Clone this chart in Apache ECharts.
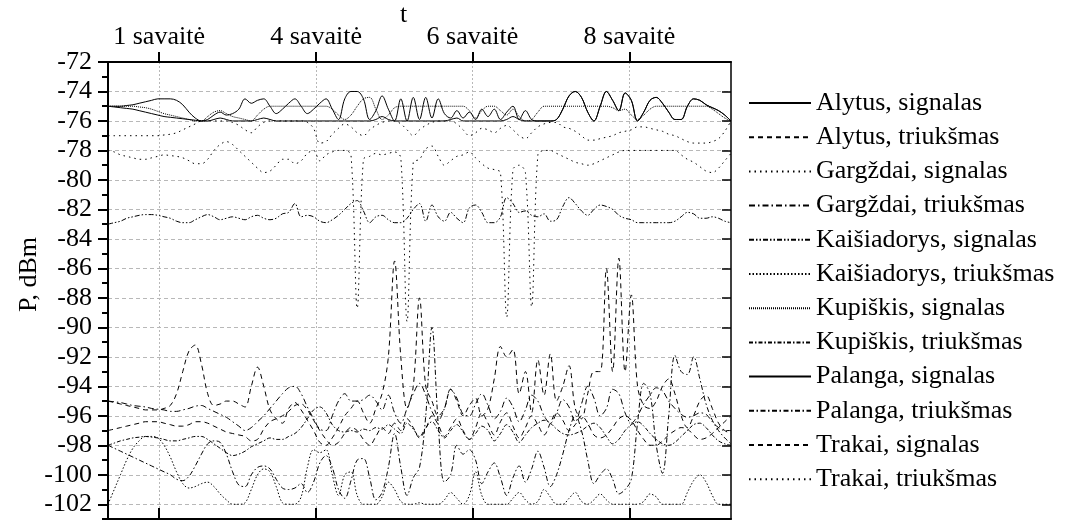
<!DOCTYPE html>
<html>
<head>
<meta charset="utf-8">
<script src="https://cdn.jsdelivr.net/npm/echarts@6/dist/echarts.min.js"></script>
<style>
html,body{margin:0;padding:0;background:#fff;}
#c{width:1081px;height:532px;}
</style>
</head>
<body>
<div id="c"></div>
<script>
// x positions (sample index along the measurement period)
const xs = [];
for (let i = 0; i <= 100; i++) xs.push(i);

// top-axis tick positions and labels
const tickPos = [8.2, 33.4, 58.5, 83.7];
const tickLabels = ['1 savaitė', '4 savaitė', '6 savaitė', '8 savaitė'];

const seriesNames = [
  'Alytus, signalas', 'Alytus, triukšmas', 'Gargždai, signalas', 'Gargždai, triukšmas',
  'Kaišiadorys, signalas', 'Kaišiadorys, triukšmas', 'Kupiškis, signalas', 'Kupiškis, triukšmas',
  'Palanga, signalas', 'Palanga, triukšmas', 'Trakai, signalas', 'Trakai, triukšmas'
];

const alytusSig = [
  -75,-75,-75,-74.95,-74.9,-74.8,-74.7,-74.6,-74.5,-74.5,
  -74.5,-74.6,-74.9,-75.4,-75.8,-76,-75.9,-75.6,-75.4,-75.6,
  -75.5,-75.2,-74.5,-74.8,-74.6,-74.5,-75.0,-75.5,-75.2,-74.8,
  -74.5,-75.0,-75.5,-75.2,-74.8,-74.5,-75.2,-75.9,-74.5,-74.0,
  -74.0,-74.5,-75.9,-75.3,-74.3,-75.2,-76,-74.5,-76,-74.4,
  -75.9,-74.4,-75.8,-74.5,-75.5,-75.8,-75.3,-75.8,-75.4,-75.9,
  -75.2,-75.7,-75.2,-75.9,-75.4,-75.0,-75.9,-75.3,-75.9,-76,
  -76,-76,-75.9,-75.2,-74.3,-74.0,-74.4,-75.4,-76,-75.0,
  -74.0,-74.6,-75.3,-74.1,-74.6,-76,-75.4,-74.6,-74.4,-74.8,
  -75.4,-75.9,-75.9,-75.0,-74.5,-74.6,-74.9,-75.1,-75.3,-75.6,
  -76
];
const palangaSig = [
  -75,-75.05,-75.1,-75.15,-75.2,-75.3,-75.4,-75.5,-75.6,-75.7,
  -75.75,-75.8,-75.85,-75.9,-75.95,-76,-76,-75.9,-75.8,-75.9,
  -76,-76,-76,-76,-75.9,-75.8,-75.9,-76,-76,-76,
  -76,-76,-76,-76,-76,-76,-76,-76,-76,-76,
  -76,-76,-76,-75.9,-75.7,-75.9,-76,-76,-76,-76,
  -76,-76,-76,-76,-76,-75.9,-75.8,-76,-76,-76,
  -76,-76,-76,-76,-75.9,-75.7,-75.9,-76,-76,-76,
  -76,-76,-75.9,-75.2,-74.3,-74.0,-74.4,-75.4,-76,-75.0,
  -74.0,-74.6,-75.3,-74.1,-74.6,-76,-75.4,-74.6,-74.4,-74.8,
  -75.4,-75.9,-75.9,-75.0,-74.5,-74.6,-74.9,-75.1,-75.3,-75.6,
  -76
];
const kupiskisSig = [
  -75,-75,-75,-75,-75,-75.05,-75.1,-75.2,-75.35,-75.5,
  -75.6,-75.7,-75.8,-75.9,-76,-76,-75.7,-75.4,-75.3,-75.5,
  -75.7,-75.8,-75.9,-76,-75.6,-75.2,-75,-75,-75,-75,
  -75,-75,-75,-75,-75,-75,-75.2,-75.6,-75.9,-75.6,
  -75.0,-74.5,-74.4,-75.2,-75.9,-75.6,-75.1,-75,-75,-75,
  -75,-75,-75,-75,-75,-75,-75,-75,-75.3,-75.8,
  -75.3,-75,-75,-75.3,-75.6,-75.2,-75.7,-76,-75.9,-75.4,
  -75,-75,-75,-75,-75,-75,-75,-75,-75,-75,
  -75,-75.1,-75.3,-75.2,-75.6,-75.9,-75.6,-75.2,-75,-75,
  -75,-75,-75,-75,-75,-75,-75,-75.2,-75.5,-75.8,
  -76
];
const gargzdaiSig = [
  -77,-77,-77,-77,-77,-77,-77,-77,-77,-76.95,
  -76.9,-76.8,-76.6,-76.4,-76.2,-76.0,-76.0,-76.0,-76.0,-76.0,
  -76.1,-76.3,-76.6,-76.8,-76.4,-76.1,-76.0,-76.0,-76,-76,
  -76,-76,-76.1,-76.5,-77.5,-77.4,-76.9,-76.5,-76.2,-76.4,
  -76.8,-77.0,-76.6,-76.3,-76.1,-76.0,-76.0,-76.2,-76.6,-77.0,
  -76.6,-76.3,-76.1,-76.0,-76.0,-76.0,-76.2,-76.6,-77.0,-76.8,
  -76.5,-76.6,-76.8,-76.5,-76.3,-76.6,-77.0,-77.2,-76.8,-76.4,
  -76.2,-76.1,-76.1,-76.4,-76.5,-76.7,-77.0,-77.3,-77.3,-77.2,
  -77.1,-77.0,-76.8,-76.7,-76.6,-76.4,-76.4,-76.5,-76.6,-76.7,
  -76.9,-77.0,-77.2,-77.4,-77.5,-77.5,-77.5,-77.4,-77.2,-76.7,
  -76
];
const trakaiTri = [
  -78.0,-78.1,-78.3,-78.4,-78.5,-78.6,-78.6,-78.5,-78.4,-78.3,
  -78.35,-78.4,-78.5,-78.7,-78.9,-78.9,-78.6,-78.0,-77.6,-77.4,
  -77.6,-78.0,-78.4,-78.8,-79.2,-79.5,-79.4,-79.0,-78.6,-78.6,
  -78.9,-78.7,-78.2,-78.0,-78.7,-78.3,-78.1,-78.0,-78.0,-78.3,
  -88.7,-78.6,-78.4,-78.2,-78.3,-78.2,-78.1,-78.5,-89.6,-78.8,
  -78.6,-77.9,-77.7,-78.4,-79.0,-78.7,-78.4,-78.3,-78.1,-78.5,
  -78.9,-79.2,-79.3,-79.5,-89.3,-79.3,-79.0,-79.5,-88.6,-78.3,
  -78.0,-78.0,-78.2,-78.4,-78.6,-78.8,-78.9,-79.0,-78.9,-78.7,
  -78.5,-78.3,-78.1,-78.0,-78.0,-78.0,-78.0,-78.0,-78.0,-78.0,
  -78.0,-78.0,-78.3,-78.6,-78.8,-79.1,-79.4,-79.5,-79.2,-78.7,
  -78.2
];
const kaisSig = [
  -83.0,-82.9,-82.8,-82.6,-82.5,-82.4,-82.35,-82.35,-82.4,-82.5,
  -82.6,-82.8,-82.9,-82.9,-82.7,-82.5,-82.35,-82.5,-82.7,-82.6,
  -82.5,-82.6,-82.7,-82.5,-82.4,-82.6,-82.7,-82.6,-82.3,-82.2,
  -81.6,-82.5,-82.4,-82.5,-82.8,-82.9,-82.7,-82.4,-82.0,-81.6,
  -81.4,-82.1,-82.9,-82.5,-82.4,-82.7,-82.9,-82.9,-82.6,-82.0,
  -81.6,-82.8,-81.7,-82.5,-82.8,-82.2,-82.6,-82.9,-81.9,-81.7,
  -82.2,-82.9,-82.9,-82.5,-81.2,-81.6,-82.2,-82.1,-82.4,-82.5,
  -82.3,-82.8,-82.7,-81.8,-81.2,-81.6,-82.1,-82.4,-82.0,-81.7,
  -81.8,-82.0,-82.4,-82.6,-82.7,-82.9,-82.9,-82.9,-82.9,-82.9,
  -82.9,-82.8,-82.5,-82.2,-82.3,-82.6,-82.6,-82.5,-82.6,-82.8,
  -82.9
];
const trakaiSig = [
  -95.0,-95.1,-95.2,-95.3,-95.4,-95.5,-95.6,-95.6,-95.6,-95.5,
  -95.3,-94.5,-93.0,-91.6,-91.2,-92.5,-94.5,-95.3,-95.2,-95.0,
  -95.0,-95.2,-95.4,-94.0,-92.7,-94.0,-95.6,-96.2,-96.5,-95.5,
  -95.1,-95.6,-96.3,-97.0,-97.8,-98.0,-97.5,-96.8,-96.0,-95.5,
  -95.0,-95.8,-96.5,-95.5,-94.5,-92.0,-85.5,-92.0,-95.5,-94.0,
  -88.0,-94.0,-95.0,-96.0,-95.5,-94.2,-95.0,-96.0,-95.3,-94.8,
  -96.0,-95.5,-93.5,-91.3,-92.0,-91.5,-94.5,-93.0,-95.8,-92.2,
  -94.6,-91.8,-95.0,-94.0,-92.6,-95.5,-96.2,-94.5,-93.0,-93.0,
  -86.0,-93.0,-85.3,-93.0,-87.8,-94.0,-95.3,-95.5,-95.0,-94.0,
  -93.5,-94.5,-96.0,-96.8,-96.0,-95.0,-94.6,-95.5,-96.5,-97.0,
  -97.2
];
const alytusTri = [
  -97.0,-96.9,-96.8,-96.7,-96.6,-96.5,-96.4,-96.4,-96.4,-96.5,
  -96.6,-96.7,-96.7,-96.6,-96.4,-96.4,-96.5,-96.7,-96.9,-97.1,
  -97.2,-97.3,-97.4,-97.7,-97.6,-96.9,-96.4,-96.2,-96.0,-95.7,
  -95.3,-95.2,-95.6,-96.3,-97.0,-97.6,-98.0,-97.8,-97.2,-96.8,
  -97.0,-97.6,-98.0,-97.4,-96.8,-97.2,-96.5,-97.0,-96.2,-96.8,
  -97.5,-96.9,-96.0,-96.6,-97.4,-96.8,-96.2,-97.0,-97.6,-96.8,
  -95.8,-96.5,-97.3,-96.4,-95.8,-96.7,-97.5,-96.8,-96.0,-96.6,
  -97.3,-96.5,-95.8,-96.3,-97.0,-96.6,-96.0,-96.5,-97.3,-97.5,
  -97.3,-96.8,-96.2,-96.0,-96.3,-97.0,-97.6,-98.0,-98.0,-97.7,
  -97.3,-97.0,-96.8,-96.9,-97.3,-97.6,-97.5,-97.2,-96.8,-96.4,
  -96.0
];
const gargzdaiTri = [
  -95.0,-95.05,-95.1,-95.2,-95.3,-95.35,-95.4,-95.5,-95.55,-95.6,
  -95.7,-95.7,-95.6,-95.5,-95.35,-95.3,-95.5,-95.7,-95.9,-96.1,
  -96.4,-96.7,-97.0,-96.8,-96.4,-96.0,-95.5,-95.0,-94.5,-94.1,
  -94.0,-94.5,-95.4,-96.2,-96.9,-97.0,-96.0,-95.0,-94.5,-95.0,
  -95.0,-94.9,-94.6,-95.0,-95.6,-94.6,-95.8,-96.5,-95.5,-94.5,
  -93.8,-94.6,-95.7,-96.3,-95.5,-94.2,-94.8,-95.9,-96.0,-95.2,
  -94.5,-95.3,-96.2,-95.7,-94.8,-95.4,-96.4,-95.6,-94.6,-95.0,
  -96.0,-96.5,-95.8,-94.9,-95.4,-96.4,-95.2,-94.0,-94.8,-96.0,
  -95.5,-94.2,-94.5,-95.8,-96.5,-96.0,-95.2,-94.6,-94.1,-94.3,
  -95.0,-95.5,-95.9,-96.1,-96.0,-95.8,-95.9,-96.4,-96.8,-97.0,
  -97.0
];
const kupiskisTri = [
  -98.0,-97.85,-97.7,-97.6,-97.5,-97.45,-97.4,-97.45,-97.5,-97.6,
  -97.7,-97.7,-97.6,-97.5,-97.4,-97.4,-97.6,-97.9,-98.2,-98.5,
  -98.7,-98.6,-98.4,-98.1,-97.9,-97.7,-97.5,-97.6,-97.6,-97.4,
  -97.2,-96.8,-96.2,-95.6,-95.4,-95.8,-96.6,-97.0,-97.1,-97.0,
  -97.1,-96.9,-97.0,-96.8,-96.9,-96.6,-96.9,-97.2,-96.5,-96.9,
  -97.4,-96.8,-96.4,-97.0,-97.5,-97.0,-96.6,-97.1,-97.6,-97.2,
  -96.7,-97.0,-97.7,-97.2,-96.6,-97.1,-97.8,-97.3,-96.8,-96.5,
  -96.3,-96.5,-96.9,-97.2,-97.3,-97.2,-97.0,-96.7,-96.5,-96.8,
  -97.4,-97.9,-97.6,-97.0,-96.6,-96.4,-96.7,-97.2,-97.6,-97.9,
  -98.0,-97.8,-97.4,-97.0,-96.6,-96.5,-96.8,-97.3,-97.7,-97.9,
  -98.0
];
const palangaTri = [
  -98.0,-98.2,-98.4,-98.6,-98.8,-99.0,-99.2,-99.4,-99.6,-99.8,
  -100.0,-100.3,-100.4,-100.1,-99.4,-98.6,-97.9,-97.7,-97.8,-98.6,
  -99.8,-100.7,-100.8,-100.0,-99.5,-99.4,-99.6,-100.3,-100.9,-101.0,
  -100.9,-100.6,-101.2,-100.5,-99.2,-98.7,-99.5,-101.0,-101.6,-100.4,
  -99.0,-98.9,-100.2,-101.7,-101.2,-99.5,-97.2,-99.5,-101.4,-100.2,
  -99.5,-96.0,-90.0,-96.5,-100.5,-100.0,-98.0,-98.6,-98.3,-99.0,
  -100.6,-99.8,-99.2,-100.2,-101.4,-100.2,-99.4,-100.5,-99.6,-98.4,
  -99.5,-100.8,-100.0,-98.6,-97.0,-96.0,-97.0,-99.0,-100.6,-100.0,
  -99.6,-100.3,-101.3,-101.0,-100.3,-96.5,-93.8,-94.5,-98.0,-99.9,
  -96.0,-91.9,-93.0,-93.2,-92.0,-93.5,-95.2,-96.3,-97.0,-97.5,
  -97.9
];
const kaisTri = [
  -102.0,-101.0,-100.0,-99.0,-98.2,-97.7,-97.4,-97.4,-97.5,-98.0,
  -98.8,-99.8,-100.6,-100.9,-100.8,-100.6,-100.5,-100.8,-101.3,-101.7,
  -102.0,-102.0,-101.9,-101.0,-100.0,-99.6,-99.8,-100.8,-101.9,-102.0,
  -102.0,-101.5,-99.5,-98.3,-98.5,-98.3,-100.0,-101.4,-100.0,-99.8,
  -101.4,-102.0,-102.0,-102.0,-101.5,-100.5,-101.0,-101.8,-102.0,-102.0,
  -101.9,-102.0,-102.0,-102.0,-101.7,-101.2,-101.6,-102.0,-101.4,-99.8,
  -101.4,-102.0,-102.0,-102.0,-102.0,-101.6,-101.2,-101.7,-102.0,-101.8,
  -101.0,-101.5,-102.0,-102.0,-101.6,-101.2,-101.8,-102.0,-101.7,-101.3,
  -101.7,-102.0,-102.0,-102.0,-102.0,-102.0,-101.8,-101.3,-101.5,-102.0,
  -102.0,-102.0,-102.0,-101.2,-100.4,-100.0,-100.5,-101.4,-102.0,-102.0,
  -102.0
];

const seriesValues = [
  alytusSig, alytusTri, gargzdaiSig, gargzdaiTri,
  kaisSig, kaisTri, kupiskisSig, kupiskisTri,
  palangaSig, palangaTri, trakaiSig, trakaiTri
];
const dashes = [
  'solid', [5, 4], [1.5, 4], [6, 3, 1.5, 3],
  [5, 2, 1.5, 2, 1.5, 2], [1.5, 2], [1, 1], [4, 2, 1.5, 2],
  'solid', [5, 2.5, 1.5, 2.5], [5, 4], [1.5, 4]
];

const FONT = 'Liberation Serif';
const yMin = -103, yMax = -72;
const allInts = [], evens = [], evensInner = [];
for (let v = yMin; v <= yMax; v++) allInts.push(v);
for (let v = -102; v <= -72; v += 2) evens.push(v);
for (let v = -102; v <= -74; v += 2) evensInner.push(v);

const chart = echarts.init(document.getElementById('c'), null, {renderer: 'canvas'});

const series = seriesNames.map((name, k) => ({
  name: name,
  type: 'line',
  xAxisIndex: 0,
  yAxisIndex: 0,
  data: xs.map((x, i) => [x, seriesValues[k][i]]),
  showSymbol: false,
  symbol: 'none',
  smooth: 0.35,
  lineStyle: {color: '#000', width: 1, type: dashes[k]},
  itemStyle: {color: '#000'},
  emphasis: {disabled: true},
  animation: false
}));

chart.setOption({
  backgroundColor: '#fff',
  animation: false,
  grid: {left: 108, top: 62, right: 350, bottom: 13, containLabel: false, outerBoundsMode: 'none'},
  legend: {
    orient: 'vertical',
    left: 743,
    top: 85,
    itemWidth: 62,
    itemHeight: 14,
    itemGap: 8.2,
    data: seriesNames,
    itemStyle: {opacity: 0},
    textStyle: {fontFamily: FONT, fontSize: 26, color: '#000', lineHeight: 26}
  },
  xAxis: [
    {
      type: 'value', position: 'top', min: 0, max: 100,
      name: 't', nameLocation: 'middle', nameGap: 34, nameMoveOverlap: false,
      nameTextStyle: {fontFamily: FONT, fontSize: 26, color: '#000', padding: [0, 32, 0, 0]},
      axisLine: {show: true, onZero: false, lineStyle: {color: '#000', width: 2}},
      axisTick: {show: true, inside: false, length: 10, customValues: tickPos, lineStyle: {color: '#000', width: 2}},
      axisLabel: {
        show: true, margin: 12, customValues: tickPos,
        fontFamily: FONT, fontSize: 26, color: '#000',
        formatter: v => { const i = tickPos.findIndex(p => Math.abs(p - v) < 1e-6); return i >= 0 ? tickLabels[i] : ''; }
      },
      splitLine: {show: true, lineStyle: {color: '#b8b8b8', width: 1, type: [2, 2]}}
    },
    {
      type: 'value', position: 'bottom', min: 0, max: 100,
      axisLine: {show: true, onZero: false, lineStyle: {color: '#000', width: 2}},
      axisTick: {show: true, inside: true, length: 11, customValues: tickPos, lineStyle: {color: '#000', width: 2}},
      axisLabel: {show: false},
      splitLine: {show: false}
    }
  ],
  yAxis: [
    {
      type: 'value', position: 'left', min: yMin, max: yMax,
      axisLine: {show: true, onZero: false, lineStyle: {color: '#000', width: 2}},
      axisTick: {show: true, inside: false, length: 6, customValues: allInts, lineStyle: {color: '#000', width: 2}},
      axisLabel: {show: false},
      splitLine: {show: false}
    },
    {
      type: 'value', position: 'left', offset: 0, min: yMin, max: yMax,
      name: 'P, dBm', nameLocation: 'middle', nameGap: 66, nameRotate: 90, nameMoveOverlap: false,
      nameTextStyle: {fontFamily: FONT, fontSize: 26, color: '#000', padding: [0, 0, 0, 32]},
      axisLine: {show: true, onZero: false, lineStyle: {color: '#000', width: 2}},
      axisTick: {show: true, inside: false, length: 10, customValues: evens, lineStyle: {color: '#000', width: 2}},
      axisLabel: {show: true, margin: 16, customValues: evens, fontFamily: FONT, fontSize: 26, color: '#000'},
      splitLine: {show: false}
    },
    {
      type: 'value', position: 'right', offset: 0, min: yMin, max: yMax,
      axisLine: {show: true, onZero: false, lineStyle: {color: '#000', width: 1.5}},
      axisTick: {show: true, inside: true, length: 9, customValues: evensInner, lineStyle: {color: '#000', width: 1.5}},
      axisLabel: {show: false},
      splitLine: {show: true, lineStyle: {color: '#b8b8b8', width: 1, type: [4, 3]}}
    }
  ],
  series: series
});
</script>
</body>
</html>
